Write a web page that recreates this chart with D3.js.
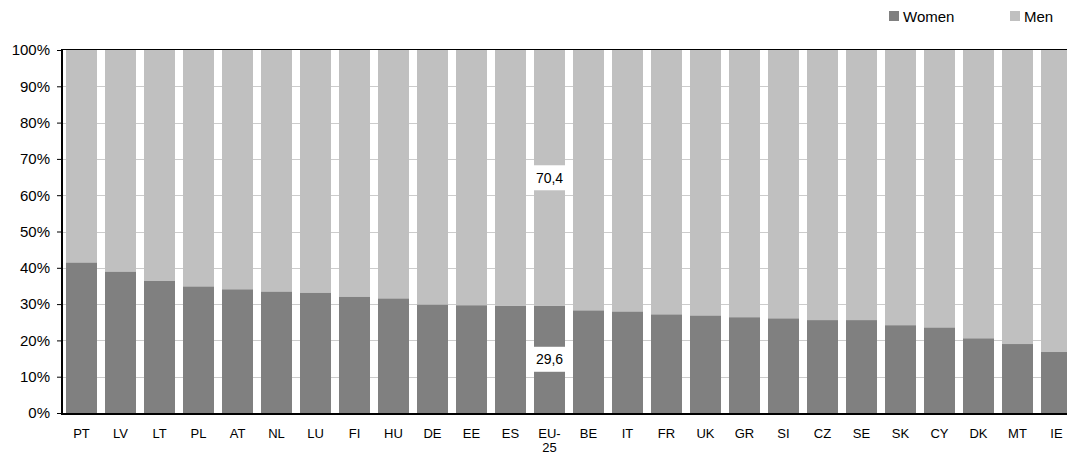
<!DOCTYPE html>
<html>
<head>
<meta charset="utf-8">
<script src="https://cdn.jsdelivr.net/npm/d3@7"></script>
<style>
  html, body { margin: 0; padding: 0; background: #fff; }
  svg { display: block; font-family: Arial, "Liberation Sans", sans-serif; }
</style>
</head>
<body>
<svg id="chart" width="1067" height="456"></svg>
<script>
// Share of women and men by country (percent)
const countries = ["PT","LV","LT","PL","AT","NL","LU","FI","HU","DE","EE","ES","EU-25","BE","IT","FR","UK","GR","SI","CZ","SE","SK","CY","DK","MT","IE"];
const women = [41.5,39.0,36.5,34.9,34.1,33.5,33.2,32.1,31.6,29.9,29.7,29.6,29.6,28.3,28.0,27.2,26.9,26.4,26.1,25.6,25.6,24.2,23.6,20.6,19.0,16.8];
const men = women.map(w => +(100 - w).toFixed(1));
const yTicks = [0,10,20,30,40,50,60,70,80,90,100];
const seriesNames = ["Women", "Men"];
const seriesColors = ["#808080", "#c0c0c0"];
const labelledCategory = "EU-25";

const svg = d3.select("#chart");

const plotLeft = 62, plotTop = 50, plotBottom = 413, plotRight = 1067;
const step = 39;
const x = d3.scaleBand()
  .domain(countries)
  .range([plotLeft, plotLeft + countries.length * step])
  .paddingInner(8 / 39)
  .paddingOuter(4 / 39);
const y = d3.scaleLinear().domain([0, 100]).range([plotBottom, plotTop]);

// light horizontal gridlines
svg.append("g")
  .selectAll("line")
  .data(yTicks.filter(t => t > 0 && t < 100))
  .join("line")
  .attr("x1", plotLeft).attr("x2", plotRight)
  .attr("y1", d => Math.round(y(d)) + 0.5)
  .attr("y2", d => Math.round(y(d)) + 0.5)
  .attr("stroke", "#cccccc").attr("stroke-width", 1);

// dark line at 100%
svg.append("line")
  .attr("x1", plotLeft).attr("x2", plotRight)
  .attr("y1", y(100) - 0.5).attr("y2", y(100) - 0.5)
  .attr("stroke", "#000").attr("stroke-width", 1);

// stacked bars
const rows = countries.map((c, i) => ({ c, w: women[i], m: men[i] }));
const bars = svg.append("g");
bars.selectAll("rect.w")
  .data(rows).join("rect").attr("class", "w")
  .attr("x", d => x(d.c)).attr("width", x.bandwidth())
  .attr("y", d => y(d.w)).attr("height", d => y(0) - y(d.w))
  .attr("fill", seriesColors[0]);
bars.selectAll("rect.m")
  .data(rows).join("rect").attr("class", "m")
  .attr("x", d => x(d.c)).attr("width", x.bandwidth())
  .attr("y", d => y(d.w + d.m)).attr("height", d => y(d.w) - y(d.w + d.m))
  .attr("fill", seriesColors[1]);

// value labels for the EU-25 bar
const eu = rows.find(r => r.c === labelledCategory);
const labelData = [
  { v: eu.m, mid: (y(eu.w) + y(100)) / 2 },
  { v: eu.w, mid: (y(0) + y(eu.w)) / 2 }
];
const lg = svg.append("g");
lg.selectAll("rect")
  .data(labelData).join("rect")
  .attr("x", x(labelledCategory)).attr("width", x.bandwidth())
  .attr("y", d => d.mid - 12.5).attr("height", 25)
  .attr("fill", "#fff");
lg.selectAll("text")
  .data(labelData).join("text")
  .attr("x", x(labelledCategory) + x.bandwidth() / 2)
  .attr("y", d => d.mid + 5)
  .attr("text-anchor", "middle")
  .attr("font-size", 14).attr("fill", "#000")
  .text(d => d3.format(".1f")(d.v).replace(".", ","));

// y axis
const yAxis = svg.append("g")
  .attr("transform", `translate(${plotLeft},0)`)
  .call(d3.axisLeft(y).tickValues(yTicks).tickSize(5).tickPadding(7).tickFormat(d => d + "%"));
yAxis.select(".domain").attr("stroke", "#000").attr("stroke-width", 2).attr("d", `M0,${plotTop - 1}V${plotBottom + 1}`);
yAxis.selectAll(".tick line").attr("stroke", "#000");
yAxis.selectAll("text").attr("font-size", 15).attr("fill", "#000").attr("font-family", "Arial, 'Liberation Sans', sans-serif");

// x axis baseline
svg.append("line")
  .attr("x1", plotLeft - 1).attr("x2", plotRight)
  .attr("y1", plotBottom + 1).attr("y2", plotBottom + 1)
  .attr("stroke", "#000").attr("stroke-width", 2);

// category labels (EU-25 wraps onto two lines)
const xl = svg.append("g");
xl.selectAll("text")
  .data(countries).join("text")
  .attr("x", d => x(d) + x.bandwidth() / 2)
  .attr("y", 438)
  .attr("text-anchor", "middle")
  .attr("font-size", 13).attr("fill", "#000")
  .each(function(d) {
    const parts = d === "EU-25" ? ["EU-", "25"] : [d];
    d3.select(this).selectAll("tspan")
      .data(parts).join("tspan")
      .attr("x", x(d) + x.bandwidth() / 2)
      .attr("dy", (p, i) => i === 0 ? 0 : 14)
      .text(p => p);
  });

// legend
const legendX = [889, 1010];
const leg = svg.append("g");
seriesNames.forEach((name, i) => {
  leg.append("rect")
    .attr("x", legendX[i]).attr("y", 11).attr("width", 10).attr("height", 10)
    .attr("fill", seriesColors[i]);
  leg.append("text")
    .attr("x", legendX[i] + 14).attr("y", 21.5)
    .attr("font-size", 15).attr("fill", "#000")
    .text(name);
});
</script>
</body>
</html>
